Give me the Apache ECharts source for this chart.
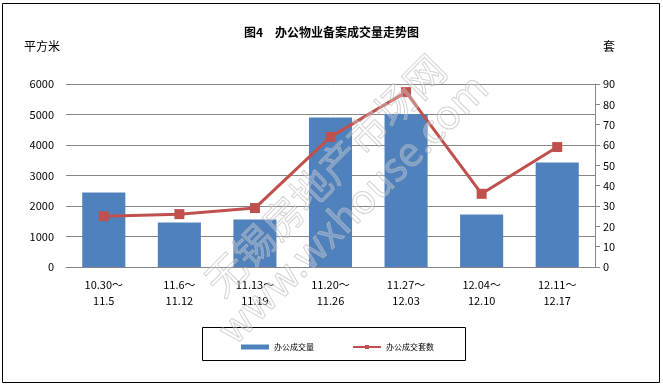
<!DOCTYPE html>
<html><head><meta charset="utf-8">
<script src="https://cdn.jsdelivr.net/npm/echarts@6/dist/echarts.min.js"></script>
<style>html,body{margin:0;padding:0;background:#fff}#c{width:663px;height:387px}</style>
</head><body><div id="c"></div>
<script>
const categories = ['10.30～\n11.5','11.6～\n11.12','11.13～\n11.19','11.20～\n11.26','11.27～\n12.03','12.04～\n12.10','12.11～\n12.17'];
const areaValues = [2440, 1460, 1560, 4900, 5020, 1720, 3430];
const unitValues = [25, 26, 29, 64, 86, 36, 59];
const leftTicks = [0, 6000, 1000];
const rightTicks = [0, 90, 10];
const font = '"Noto Sans CJK SC", sans-serif';
const chart = echarts.init(document.getElementById('c'));
chart.setOption({
  animation: false,
  graphic: [
    {type:'rect', shape:{x:2.5,y:3.5,width:657,height:379}, style:{fill:'none',stroke:'#000',lineWidth:1}, z:-1},
    {type:'rect', shape:{x:202.5,y:327.5,width:263,height:33}, style:{fill:'none',stroke:'#000',lineWidth:1}},
    {type:'text', left:24, top:40, style:{text:'平方米', font:'12px '+font, fill:'#000'}},
    {type:'text', left:603, top:40, style:{text:'套', font:'12px '+font, fill:'#000'}},
    {type:'text', x:325, y:175, rotation:0.785, style:{text:'无锡房地产市场网', font:'40px '+font, fill:'rgba(255,255,255,0.25)', stroke:'rgba(170,170,170,0.6)', lineWidth:1, align:'center', verticalAlign:'middle'}, z:100},
    {type:'text', x:352, y:208, rotation:0.785, style:{text:'www.wxhouse.com', font:'40px '+font, fill:'rgba(255,255,255,0.25)', stroke:'rgba(170,170,170,0.6)', lineWidth:1, align:'center', verticalAlign:'middle'}, z:100}
  ],
  title: {text:'图4　办公物业备案成交量走势图', left:'center', top:21, textStyle:{fontSize:12, fontWeight:'bold', color:'#000', fontFamily:font}},
  legend: {
    left: 236, top: 338, itemGap: 38, itemWidth: 28, itemHeight: 5,
    textStyle:{fontSize:8, color:'#000', fontFamily:font},
    data:[{name:'办公成交量', icon:'rect'}, {name:'办公成交套数'}]
  },
  grid: {left:66, right:68, top:84, bottom:120},
  xAxis: {
    type:'category', data:categories,
    axisLine:{show:true, lineStyle:{color:'#868686'}},
    axisTick:{show:false},
    axisLabel:{color:'#000', fontSize:11, fontFamily:font, lineHeight:16, margin:10}
  },
  yAxis: [
    {type:'value', min:leftTicks[0], max:leftTicks[1], interval:leftTicks[2],
     axisLine:{show:false}, axisTick:{show:false},
     splitLine:{lineStyle:{color:'#868686'}},
     axisLabel:{color:'#000', fontSize:11, fontFamily:font, margin:12, formatter:v=>String(v)}},
    {type:'value', min:rightTicks[0], max:rightTicks[1], interval:rightTicks[2], position:'right',
     axisLine:{show:true, lineStyle:{color:'#868686'}},
     axisTick:{show:true, length:5, lineStyle:{color:'#868686'}},
     splitLine:{show:false},
     axisLabel:{color:'#000', fontSize:11, fontFamily:font, margin:8}}
  ],
  series: [
    {name:'办公成交量', type:'bar', data:areaValues, barWidth:'57%', itemStyle:{color:'#4F81BD'}},
    {name:'办公成交套数', type:'line', yAxisIndex:1, data:unitValues,
     symbol:'rect', symbolSize:10, lineStyle:{color:'#C0504D', width:3},
     itemStyle:{color:'#C0504D'}}
  ]
});
</script></body></html>
